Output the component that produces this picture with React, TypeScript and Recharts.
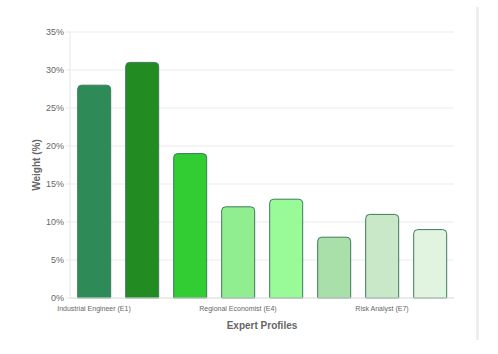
import React from 'react';
import { BarChart, Bar, XAxis, YAxis, CartesianGrid, Cell, Label } from 'recharts';

// Expert weights
const experts = [
  'Industrial Engineer (E1)',
  'Supply Chain Analyst (E2)',
  'Environmental Scientist (E3)',
  'Regional Economist (E4)',
  'Urban Planner (E5)',
  'Policy Advisor (E6)',
  'Risk Analyst (E7)',
  'Financial Consultant (E8)',
];
const weights = [28, 31, 19, 12, 13, 8, 11, 9];
const barColors = ['#2E8B57', '#228B22', '#32CD32', '#90EE90', '#98FB98', '#A9DFA9', '#C8E8C8', '#E0F4E0'];
const yTicks = [0, 5, 10, 15, 20, 25, 30, 35];

const data = experts.map((name, i) => ({ name, weight: weights[i] }));

const font = 'Liberation Sans, Arial, sans-serif';

const App: React.FC = () => {
  return (
    <div style={{ position: 'absolute', left: 0, top: 0, width: 498, height: 354, background: '#fff' }}>
      <BarChart
        width={498}
        height={354}
        data={data}
        margin={{ top: 32, right: 44, left: 10, bottom: 16 }}
        barCategoryGap="16%"
      >
        <CartesianGrid stroke="#ebebeb" vertical={false} />
        <XAxis
          dataKey="name"
          interval={2}
          height={40}
          stroke="#e0e0e0"
          tickLine={false}
          tick={{ fill: '#666', fontSize: 7, fontFamily: font }}
        >
          <Label
            value="Expert Profiles"
            position="insideBottom"
            offset={9}
            style={{ fill: '#666', fontSize: 10, fontWeight: 'bold', fontFamily: font }}
          />
        </XAxis>
        <YAxis
          width={60}
          domain={[0, 35]}
          ticks={yTicks}
          tickFormatter={(v) => `${v}%`}
          stroke="#e6e6e6"
          tickSize={4}
          tick={{ fill: '#666', fontSize: 9, fontFamily: font }}
        >
          <Label
            value="Weight (%)"
            angle={-90}
            position="insideLeft"
            offset={26}
            style={{ fill: '#666', fontSize: 10, fontWeight: 'bold', textAnchor: 'middle', fontFamily: font }}
          />
        </YAxis>
        <Bar dataKey="weight" stroke="#3d7a5a" strokeWidth={1} radius={[4, 4, 0, 0]} isAnimationActive={false}>
          {data.map((d, i) => (
            <Cell key={d.name} fill={barColors[i]} />
          ))}
        </Bar>
      </BarChart>
      <div style={{ position: 'absolute', left: 476, top: 7, width: 3, height: 333, background: '#efeff2' }} />
    </div>
  );
};

export default App;
